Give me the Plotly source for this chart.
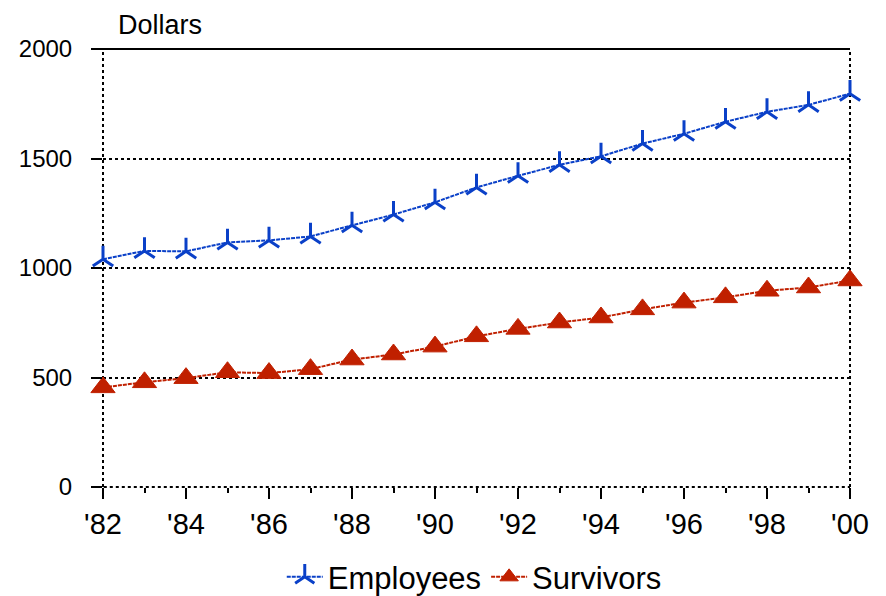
import plotly.graph_objects as go

years = list(range(1982, 2001))
employees = [1040, 1078, 1076, 1117, 1126, 1144, 1195, 1244, 1300, 1368, 1421, 1471, 1510, 1568, 1613, 1668, 1713, 1745, 1796]
survivors = [455, 478, 497, 524, 520, 538, 582, 605, 641, 688, 722, 751, 774, 811, 842, 866, 896, 911, 943]
tick_years = list(range(1982, 2001, 2))
tick_labels = ["'82", "'84", "'86", "'88", "'90", "'92", "'94", "'96", "'98", "'00"]

blue = "#0A40C8"
red = "#C02000"

fig = go.Figure()
fig.add_trace(go.Scatter(
    x=years, y=employees, name="Employees", mode="lines+markers",
    line=dict(color=blue, width=2, dash="4px,1px"),
    marker=dict(symbol="y-up-open", size=17, color=blue, line=dict(color=blue, width=3)),
    cliponaxis=False,
))
fig.add_trace(go.Scatter(
    x=years, y=survivors, name="Survivors     ".strip(), mode="lines+markers",
    line=dict(color=red, width=2, dash="4px,1px"),
    marker=dict(symbol="triangle-up", size=21, color=red, line=dict(color=red, width=1)),
    cliponaxis=False,
))

# frame: solid top, dotted sides and bottom
fig.add_shape(type="line", xref="paper", yref="paper", x0=-0.015, x1=1, y0=1, y1=1,
              line=dict(color="black", width=2), layer="below")
for xv in (0, 1):
    fig.add_shape(type="line", xref="paper", yref="paper", x0=xv, x1=xv, y0=0, y1=1,
                  line=dict(color="black", width=2, dash="dot"), layer="below")
fig.add_shape(type="line", xref="paper", yref="paper", x0=-0.015, x1=1, y0=0, y1=0,
              line=dict(color="black", width=2, dash="dot"), layer="below")

fig.add_annotation(text="Dollars", xref="paper", yref="paper", x=0.018, y=1.0,
                   xanchor="left", yanchor="bottom", yshift=7, showarrow=False,
                   font=dict(size=27, color="black"))

fig.update_xaxes(
    range=[1982, 2000], tickvals=tick_years, ticktext=tick_labels,
    showgrid=False, zeroline=False, showline=False,
    ticks="outside", ticklen=11, tickwidth=2, tickcolor="black",
    minor=dict(dtick=1, tick0=1982, ticks="outside", ticklen=5, tickwidth=2,
               tickcolor="black", showgrid=False),
    ticklabelstandoff=0,
    tickfont=dict(size=29, color="black"),
)
fig.update_yaxes(
    range=[0, 2000], tickvals=[0, 500, 1000, 1500, 2000],
    showgrid=True, gridcolor="black", gridwidth=2, griddash="dot",
    zeroline=False, showline=False,
    ticks="outside", ticklen=11, tickwidth=2, tickcolor="black",
    ticklabelstandoff=14,
    tickfont=dict(size=24, color="black"),
)

fig.update_layout(
    width=878, height=588,
    margin=dict(l=95, r=36, t=41, b=109, autoexpand=False),
    plot_bgcolor="white", paper_bgcolor="white",
    font=dict(family="Liberation Sans, Arial, sans-serif", color="black"),
    legend=dict(orientation="h", x=0.497, xanchor="center",
                yref="container", y=0.032, yanchor="middle",
                font=dict(size=31, color="black"), itemwidth=36),
    showlegend=True,
)

fig.write_html("out.html")
